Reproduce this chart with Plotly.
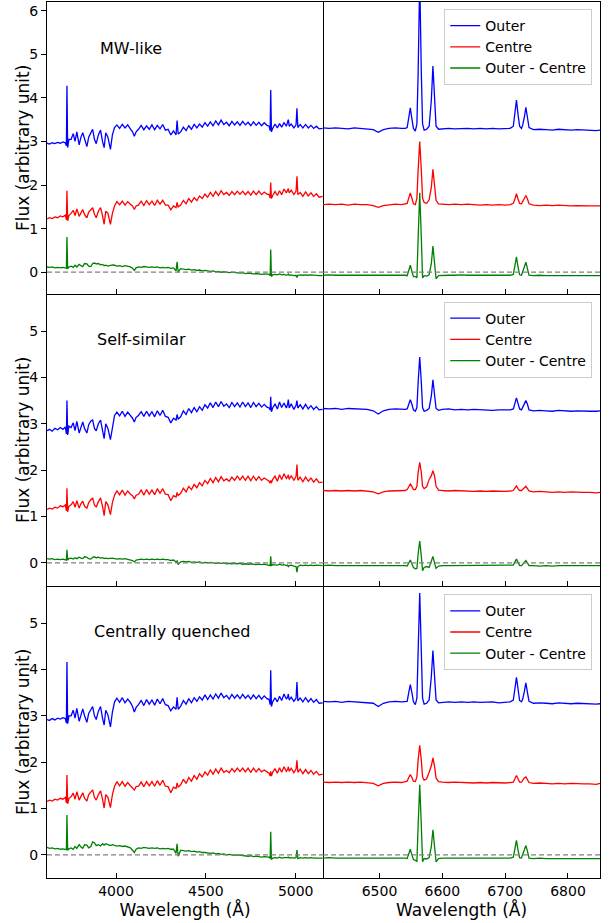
import plotly.graph_objects as go
from plotly.subplots import make_subplots

# ---------------------------------------------------------------- wavelengths
# blue side of the spectra (Å)
WAVE_BLUE = [
    3616, 3630, 3645, 3660, 3675, 3690, 3705, 3718,
    3724, 3727, 3731, 3738,
    3750, 3762, 3772, 3782, 3795, 3805, 3815, 3825, 3838, 3848, 3860, 3870,
    3880, 3890, 3902, 3914, 3925, 3934, 3943, 3955, 3969, 3980, 3992,
    4005, 4020, 4035, 4050, 4065, 4080, 4092,
    4102, 4112,
    4125, 4140, 4155, 4170, 4185, 4200, 4215, 4230, 4245, 4260, 4275, 4290, 4305, 4320,
    4334, 4340, 4346,
    4360, 4375, 4390, 4405, 4420, 4435, 4450, 4465, 4480, 4495,
    4510, 4525, 4540, 4555, 4570, 4585, 4600, 4615, 4630, 4645, 4660, 4675,
    4690, 4705, 4720, 4735, 4750, 4765, 4780, 4795, 4810, 4825, 4840,
    4852, 4858, 4861, 4865, 4872,
    4885, 4898, 4910, 4922, 4935, 4948,
    4955, 4959, 4964,
    4975, 4990, 5002,
    5007, 5012,
    5025, 5040, 5055, 5070, 5085, 5100, 5115, 5130, 5150,
]

# red side of the spectra around H-alpha, [NII] and [SII] (Å)
WAVE_RED = [
    6410, 6420, 6430, 6440, 6450, 6460, 6470, 6480, 6490, 6498, 6506, 6515, 6525, 6535, 6541,
    6544, 6546.5, 6549, 6551.5, 6554,
    6557,
    6559.5, 6561.5, 6564, 6566.5, 6568.5,
    6571, 6575, 6579,
    6582.5, 6585, 6587.5, 6590,
    6594, 6600, 6610, 6620, 6630, 6640, 6650, 6660, 6670, 6680, 6690, 6700, 6708,
    6713, 6715.5, 6718, 6720.5, 6723, 6726, 6728, 6730.5, 6733, 6735.5, 6738,
    6745, 6755, 6765, 6775, 6785, 6795, 6805, 6815, 6825, 6835, 6845, 6851,
]

# ---------------------------------------------------------------- MW-like
MW_OUTER_BLUE = [
    2.96, 2.94, 2.97, 2.95, 2.98, 2.96, 2.99, 2.97,
    2.90, 4.28, 2.86, 3.05,
    3.05, 3.18, 3.00, 3.22, 2.92, 3.10, 3.20, 3.05, 2.88, 3.10, 3.20, 3.28,
    3.05, 2.95, 3.15, 3.26, 3.00, 2.86, 3.20, 3.10, 2.82, 3.15, 3.32,
    3.38, 3.30, 3.39, 3.31, 3.38, 3.29, 3.22,
    3.12, 3.22,
    3.28, 3.37, 3.27, 3.36, 3.28, 3.38, 3.27, 3.37, 3.29, 3.39, 3.26, 3.28, 3.15, 3.24,
    3.15, 3.48, 3.17,
    3.22, 3.33, 3.25, 3.36, 3.28, 3.39, 3.31, 3.40, 3.33, 3.43,
    3.35, 3.45, 3.36, 3.47, 3.38, 3.49, 3.39, 3.44, 3.36, 3.46, 3.38, 3.45,
    3.37, 3.46, 3.38, 3.44, 3.36, 3.45, 3.37, 3.44, 3.36, 3.43, 3.37,
    3.35, 3.25, 4.18, 3.22, 3.30,
    3.40, 3.31, 3.41, 3.33, 3.43, 3.35,
    3.42, 3.50, 3.35,
    3.40, 3.31, 3.38,
    3.76, 3.32,
    3.39, 3.31, 3.39, 3.31, 3.37, 3.30, 3.35, 3.29, 3.30,
]
MW_CENTRE_BLUE = [
    1.22, 1.25, 1.23, 1.27, 1.25, 1.29, 1.27, 1.31,
    1.20, 1.87, 1.18, 1.30,
    1.35, 1.42, 1.30, 1.45, 1.28, 1.38, 1.44, 1.32, 1.25, 1.38, 1.44, 1.48,
    1.33, 1.25, 1.40, 1.48, 1.30, 1.10, 1.40, 1.35, 1.10, 1.35, 1.52,
    1.62, 1.55, 1.63, 1.54, 1.62, 1.56, 1.52,
    1.44, 1.52,
    1.54, 1.63, 1.53, 1.64, 1.55, 1.63, 1.53, 1.65, 1.56, 1.65, 1.54, 1.54, 1.43, 1.52,
    1.48, 1.60, 1.50,
    1.54, 1.65, 1.57, 1.69, 1.61, 1.71, 1.64, 1.75, 1.69, 1.79,
    1.72, 1.83, 1.74, 1.85, 1.76, 1.87, 1.78, 1.83, 1.76, 1.85, 1.78, 1.86,
    1.79, 1.86, 1.78, 1.85, 1.77, 1.86, 1.78, 1.86, 1.78, 1.84, 1.79,
    1.78, 1.70, 2.06, 1.69, 1.76,
    1.85, 1.76, 1.87, 1.78, 1.91, 1.82,
    1.90, 1.92, 1.82,
    1.88, 1.78, 1.86,
    2.20, 1.78,
    1.83, 1.74, 1.84, 1.75, 1.82, 1.74, 1.80, 1.72, 1.74,
]
MW_DIFF_BLUE = [
    0.12, 0.11, 0.12, 0.10, 0.11, 0.10, 0.11, 0.10,
    0.09, 0.81, 0.08, 0.12,
    0.14, 0.11, 0.16, 0.12, 0.18, 0.15, 0.13, 0.20, 0.19, 0.14, 0.13, 0.20,
    0.21, 0.19, 0.20, 0.17, 0.18, 0.15, 0.16, 0.14, 0.15, 0.17, 0.16,
    0.14, 0.15, 0.13, 0.15, 0.14, 0.12, 0.09,
    0.04, 0.10,
    0.12, 0.11, 0.13, 0.12, 0.11, 0.12, 0.11, 0.12, 0.10, 0.11, 0.10, 0.11, 0.09, 0.10,
    0.03, 0.24, 0.00,
    0.08, 0.07, 0.06, 0.07, 0.05, 0.06, 0.04, 0.05, 0.03, 0.04,
    0.03, 0.02, 0.03, 0.01, 0.02, 0.00, 0.01, 0.00, -0.01, 0.00, -0.01, -0.01,
    -0.02, -0.01, -0.03, -0.02, -0.03, -0.04, -0.03, -0.04, -0.05, -0.04, -0.05,
    -0.05, -0.08, 0.52, -0.10, -0.06,
    -0.05, -0.06, -0.04, -0.06, -0.05, -0.07,
    -0.06, -0.04, -0.07,
    -0.06, -0.08, -0.07,
    -0.12, -0.07,
    -0.06, -0.07, -0.06, -0.07, -0.06, -0.07, -0.07, -0.08, -0.08,
]
MW_OUTER_RED = [
    3.31, 3.30, 3.31, 3.30, 3.29, 3.31, 3.30, 3.29, 3.27, 3.21, 3.27, 3.30, 3.31, 3.30, 3.30,
    3.32, 3.52, 3.77, 3.52, 3.30,
    3.24,
    3.40, 4.60, 6.75, 4.60, 3.40,
    3.26, 3.28, 3.35,
    3.95, 4.73, 3.95, 3.35,
    3.28, 3.29, 3.30, 3.29, 3.30, 3.30, 3.29, 3.30, 3.29, 3.30, 3.29, 3.29, 3.30,
    3.35, 3.62, 3.95, 3.62, 3.35, 3.30, 3.38, 3.55, 3.78, 3.55, 3.32,
    3.27, 3.28, 3.27, 3.26, 3.28, 3.27, 3.26, 3.27, 3.26, 3.26, 3.25, 3.26,
]
MW_CENTRE_RED = [
    1.55, 1.56, 1.55, 1.56, 1.54, 1.56, 1.55, 1.55, 1.53, 1.49, 1.53, 1.55, 1.56, 1.55, 1.56,
    1.58, 1.70, 1.82, 1.70, 1.57,
    1.55,
    1.70, 2.35, 3.00, 2.35, 1.70,
    1.60, 1.58, 1.66,
    1.95, 2.36, 1.95, 1.65,
    1.57, 1.56, 1.55, 1.56, 1.55, 1.56, 1.55, 1.54, 1.55, 1.54, 1.55, 1.54, 1.55,
    1.58, 1.68, 1.80, 1.68, 1.58, 1.57, 1.62, 1.70, 1.76, 1.68, 1.57,
    1.54, 1.53, 1.54, 1.53, 1.54, 1.53, 1.52, 1.53, 1.52, 1.52, 1.52, 1.52,
]
MW_DIFF_RED = [
    -0.07, -0.06, -0.07, -0.07, -0.06, -0.07, -0.07, -0.06, -0.07, -0.07, -0.06, -0.07, -0.07, -0.06, -0.07,
    -0.08, 0.04, 0.16, 0.02, -0.10,
    -0.10,
    -0.13, 0.80, 1.82, 0.80, -0.13,
    -0.08, -0.09, -0.06,
    0.20, 0.60, 0.20, -0.15,
    -0.08, -0.07, -0.07, -0.07, -0.06, -0.07, -0.07, -0.07, -0.06, -0.07, -0.07, -0.07, -0.07,
    -0.05, 0.12, 0.35, 0.12, -0.06, -0.07, 0.00, 0.12, 0.23, 0.10, -0.07,
    -0.08, -0.07, -0.08, -0.08, -0.07, -0.08, -0.08, -0.08, -0.08, -0.08, -0.08, -0.08,
]

# ---------------------------------------------------------------- Self-similar
SS_OUTER_BLUE = [
    2.85, 2.88, 2.84, 2.90, 2.87, 2.92, 2.88, 2.93,
    2.78, 3.50, 2.76, 2.95,
    2.92, 3.02, 2.85, 3.05, 2.80, 2.95, 3.04, 2.90, 2.80, 2.98, 3.06, 3.08,
    2.90, 2.85, 3.00, 3.08, 2.88, 2.68, 3.00, 2.90, 2.66, 2.95, 3.18,
    3.25, 3.17, 3.27, 3.16, 3.25, 3.18, 3.12,
    3.04, 3.14,
    3.18, 3.26, 3.16, 3.27, 3.17, 3.26, 3.15, 3.28, 3.18, 3.29, 3.16, 3.14, 3.02, 3.12,
    3.08, 3.20, 3.10,
    3.15, 3.28, 3.20, 3.33, 3.24, 3.35, 3.26, 3.37, 3.29, 3.41,
    3.34, 3.45, 3.35, 3.47, 3.37, 3.48, 3.38, 3.43, 3.35, 3.46, 3.37, 3.45,
    3.36, 3.47, 3.37, 3.45, 3.35, 3.46, 3.37, 3.44, 3.36, 3.42, 3.36,
    3.34, 3.30, 3.58, 3.26, 3.34,
    3.43, 3.32, 3.47, 3.35, 3.45, 3.34,
    3.42, 3.52, 3.34,
    3.43, 3.31, 3.40,
    3.50, 3.34,
    3.41, 3.32, 3.42, 3.32, 3.39, 3.31, 3.37, 3.30, 3.31,
]
SS_CENTRE_BLUE = [
    1.15, 1.18, 1.16, 1.20, 1.18, 1.23, 1.21, 1.25,
    1.12, 1.61, 1.10, 1.22,
    1.25, 1.32, 1.20, 1.34, 1.18, 1.28, 1.33, 1.22, 1.18, 1.30, 1.36, 1.40,
    1.25, 1.20, 1.32, 1.40, 1.22, 1.02, 1.32, 1.25, 1.04, 1.30, 1.46,
    1.55, 1.47, 1.57, 1.46, 1.55, 1.48, 1.45,
    1.38, 1.46,
    1.48, 1.57, 1.46, 1.58, 1.48, 1.57, 1.47, 1.60, 1.50, 1.60, 1.48, 1.47, 1.34, 1.45,
    1.42, 1.52, 1.45,
    1.50, 1.61, 1.53, 1.65, 1.58, 1.69, 1.62, 1.73, 1.66, 1.78,
    1.71, 1.82, 1.73, 1.84, 1.75, 1.86, 1.77, 1.81, 1.76, 1.85, 1.78, 1.87,
    1.79, 1.87, 1.78, 1.87, 1.77, 1.87, 1.78, 1.86, 1.78, 1.83, 1.79,
    1.76, 1.72, 1.78, 1.72, 1.80,
    1.87, 1.76, 1.90, 1.80, 1.92, 1.82,
    1.86, 1.90, 1.80,
    1.88, 1.78, 1.86,
    2.12, 1.78,
    1.85, 1.75, 1.85, 1.76, 1.83, 1.74, 1.81, 1.73, 1.74,
]
SS_DIFF_BLUE = [
    0.09, 0.08, 0.09, 0.07, 0.08, 0.07, 0.08, 0.07,
    0.06, 0.28, 0.06, 0.09,
    0.10, 0.08, 0.11, 0.09, 0.12, 0.10, 0.09, 0.13, 0.12, 0.09, 0.08, 0.12,
    0.13, 0.11, 0.12, 0.10, 0.11, 0.09, 0.10, 0.09, 0.10, 0.10, 0.09,
    0.08, 0.09, 0.08, 0.09, 0.08, 0.07, 0.05,
    0.02, 0.06,
    0.07, 0.08, 0.07, 0.08, 0.07, 0.08, 0.07, 0.08, 0.07, 0.08, 0.07, 0.07, 0.05, 0.06,
    0.02, 0.04, -0.04,
    0.02, 0.03, 0.02, 0.03, 0.01, 0.02, 0.01, 0.02, 0.00, 0.01,
    0.00, 0.01, 0.00, -0.01, 0.00, -0.01, 0.00, -0.02, -0.01, -0.02, -0.01, -0.02,
    -0.01, -0.03, -0.02, -0.03, -0.02, -0.03, -0.04, -0.03, -0.04, -0.03, -0.04,
    -0.04, -0.06, 0.14, -0.06, -0.04,
    -0.04, -0.05, -0.03, -0.05, -0.04, -0.06,
    -0.05, -0.08, -0.06,
    -0.05, -0.07, -0.08,
    -0.20, -0.08,
    -0.05, -0.06, -0.05, -0.06, -0.05, -0.06, -0.05, -0.06, -0.06,
]
SS_OUTER_RED = [
    3.33, 3.32, 3.33, 3.31, 3.33, 3.32, 3.32, 3.31, 3.28, 3.21, 3.28, 3.31, 3.32, 3.31, 3.31,
    3.32, 3.42, 3.52, 3.42, 3.30,
    3.27,
    3.35, 3.90, 4.44, 3.90, 3.35,
    3.27, 3.29, 3.33,
    3.60, 3.95, 3.60, 3.33,
    3.29, 3.31, 3.32, 3.30, 3.31, 3.30, 3.31, 3.30, 3.30, 3.29, 3.30, 3.30, 3.30,
    3.32, 3.44, 3.56, 3.44, 3.32, 3.30, 3.35, 3.44, 3.50, 3.42, 3.30,
    3.28, 3.29, 3.28, 3.27, 3.29, 3.28, 3.27, 3.28, 3.27, 3.27, 3.27, 3.28,
]
SS_CENTRE_RED = [
    1.56, 1.55, 1.56, 1.55, 1.56, 1.55, 1.56, 1.55, 1.53, 1.49, 1.53, 1.55, 1.56, 1.56, 1.56,
    1.58, 1.65, 1.70, 1.65, 1.58,
    1.58,
    1.65, 1.95, 2.17, 1.95, 1.65,
    1.60, 1.64, 1.80,
    1.88, 1.99, 1.88, 1.65,
    1.57, 1.56, 1.55, 1.56, 1.55, 1.55, 1.54, 1.55, 1.54, 1.55, 1.54, 1.54, 1.55,
    1.56, 1.61, 1.66, 1.60, 1.56, 1.56, 1.59, 1.63, 1.65, 1.60, 1.55,
    1.53, 1.54, 1.53, 1.52, 1.53, 1.52, 1.53, 1.52, 1.52, 1.52, 1.51, 1.52,
]
SS_DIFF_RED = [
    -0.06, -0.05, -0.06, -0.06, -0.05, -0.06, -0.06, -0.05, -0.06, -0.06, -0.05, -0.06, -0.06, -0.05, -0.06,
    -0.07, 0.00, 0.06, -0.02, -0.10,
    -0.13,
    -0.12, 0.20, 0.47, 0.15, -0.17,
    -0.10, -0.08, -0.10,
    0.05, 0.14, 0.00, -0.12,
    -0.07, -0.06, -0.06, -0.06, -0.05, -0.06, -0.06, -0.06, -0.05, -0.06, -0.06, -0.06, -0.06,
    -0.05, 0.02, 0.08, 0.01, -0.06, -0.06, -0.03, 0.02, 0.05, 0.00, -0.06,
    -0.06, -0.07, -0.06, -0.07, -0.06, -0.06, -0.07, -0.06, -0.07, -0.06, -0.07, -0.06,
]

# ---------------------------------------------------------------- Centrally quenched
CQ_OUTER_BLUE = [
    2.92, 2.90, 2.94, 2.91, 2.95, 2.93, 2.96, 2.94,
    2.84, 4.16, 2.83, 3.00,
    3.00, 3.12, 2.95, 3.16, 2.88, 3.05, 3.15, 3.00, 2.86, 3.05, 3.15, 3.20,
    3.00, 2.92, 3.10, 3.20, 2.95, 2.80, 3.12, 3.02, 2.76, 3.08, 3.30,
    3.38, 3.29, 3.39, 3.28, 3.36, 3.29, 3.20,
    3.08, 3.18,
    3.24, 3.33, 3.22, 3.35, 3.25, 3.34, 3.23, 3.36, 3.26, 3.37, 3.24, 3.22, 3.11, 3.19,
    3.14, 3.40, 3.14,
    3.21, 3.33, 3.25, 3.37, 3.28, 3.39, 3.31, 3.41, 3.34, 3.45,
    3.35, 3.45, 3.36, 3.47, 3.38, 3.49, 3.39, 3.44, 3.36, 3.46, 3.38, 3.45,
    3.37, 3.46, 3.38, 3.44, 3.36, 3.45, 3.37, 3.44, 3.36, 3.43, 3.37,
    3.35, 3.24, 3.98, 3.20, 3.30,
    3.39, 3.30, 3.42, 3.33, 3.47, 3.36,
    3.40, 3.47, 3.34,
    3.40, 3.31, 3.38,
    3.73, 3.32,
    3.38, 3.30, 3.39, 3.30, 3.37, 3.29, 3.35, 3.27, 3.28,
]
CQ_CENTRE_BLUE = [
    1.15, 1.18, 1.16, 1.20, 1.18, 1.22, 1.20, 1.24,
    1.12, 1.72, 1.10, 1.22,
    1.25, 1.33, 1.20, 1.36, 1.18, 1.28, 1.34, 1.22, 1.16, 1.30, 1.36, 1.40,
    1.24, 1.18, 1.30, 1.38, 1.20, 1.01, 1.30, 1.24, 1.02, 1.30, 1.48,
    1.58, 1.49, 1.58, 1.48, 1.56, 1.49, 1.45,
    1.40, 1.47,
    1.48, 1.57, 1.47, 1.58, 1.49, 1.58, 1.48, 1.60, 1.50, 1.61, 1.48, 1.47, 1.34, 1.46,
    1.43, 1.55, 1.46,
    1.51, 1.63, 1.54, 1.67, 1.59, 1.71, 1.63, 1.75, 1.68, 1.79,
    1.72, 1.83, 1.74, 1.85, 1.76, 1.87, 1.78, 1.82, 1.77, 1.86, 1.79, 1.87,
    1.80, 1.87, 1.79, 1.87, 1.78, 1.87, 1.79, 1.86, 1.79, 1.83, 1.79,
    1.76, 1.70, 1.80, 1.70, 1.78,
    1.86, 1.76, 1.88, 1.78, 1.90, 1.80,
    1.84, 1.90, 1.80,
    1.87, 1.77, 1.85,
    2.04, 1.78,
    1.85, 1.75, 1.84, 1.75, 1.82, 1.74, 1.80, 1.72, 1.74,
]
CQ_DIFF_BLUE = [
    0.16, 0.14, 0.15, 0.13, 0.14, 0.12, 0.13, 0.12,
    0.11, 0.86, 0.10, 0.13,
    0.15, 0.12, 0.18, 0.14, 0.22, 0.17, 0.14, 0.22, 0.21, 0.15, 0.18, 0.28,
    0.26, 0.20, 0.22, 0.19, 0.24, 0.21, 0.24, 0.22, 0.20, 0.22, 0.20,
    0.19, 0.20, 0.18, 0.19, 0.17, 0.15, 0.10,
    0.05, 0.12,
    0.15, 0.14, 0.16, 0.15, 0.14, 0.15, 0.14, 0.15, 0.13, 0.14, 0.13, 0.14, 0.12, 0.12,
    0.03, 0.24, -0.03,
    0.10, 0.09, 0.08, 0.09, 0.07, 0.08, 0.06, 0.07, 0.05, 0.05,
    0.04, 0.03, 0.04, 0.02, 0.03, 0.01, 0.02, 0.00, 0.01, 0.00, -0.01, 0.00,
    -0.01, -0.02, -0.02, -0.03, -0.02, -0.04, -0.03, -0.04, -0.05, -0.04, -0.05,
    -0.05, -0.08, 0.50, -0.10, -0.07,
    -0.06, -0.07, -0.05, -0.07, -0.06, -0.07,
    -0.06, -0.05, -0.07,
    -0.06, -0.07, -0.06,
    0.10, -0.08,
    -0.06, -0.07, -0.06, -0.07, -0.06, -0.07, -0.07, -0.07, -0.07,
]
CQ_OUTER_RED = [
    3.31, 3.30, 3.31, 3.29, 3.31, 3.30, 3.30, 3.29, 3.27, 3.20, 3.27, 3.30, 3.31, 3.30, 3.30,
    3.31, 3.50, 3.67, 3.50, 3.30,
    3.24,
    3.38, 4.40, 5.65, 4.40, 3.38,
    3.25, 3.27, 3.34,
    3.85, 4.41, 3.85, 3.34,
    3.28, 3.29, 3.30, 3.29, 3.30, 3.29, 3.30, 3.29, 3.29, 3.30, 3.28, 3.29, 3.30,
    3.34, 3.58, 3.83, 3.58, 3.33, 3.30, 3.36, 3.52, 3.71, 3.50, 3.31,
    3.27, 3.28, 3.27, 3.26, 3.28, 3.27, 3.26, 3.27, 3.26, 3.26, 3.25, 3.26,
]
CQ_CENTRE_RED = [
    1.57, 1.56, 1.57, 1.56, 1.57, 1.56, 1.57, 1.56, 1.54, 1.49, 1.54, 1.56, 1.57, 1.56, 1.57,
    1.59, 1.67, 1.73, 1.67, 1.59,
    1.58,
    1.68, 2.05, 2.36, 2.05, 1.68,
    1.61, 1.64, 1.78,
    1.92, 2.09, 1.92, 1.66,
    1.58, 1.57, 1.56, 1.57, 1.56, 1.56, 1.55, 1.56, 1.55, 1.56, 1.55, 1.55, 1.56,
    1.57, 1.64, 1.71, 1.64, 1.57, 1.57, 1.61, 1.66, 1.68, 1.63, 1.56,
    1.54, 1.55, 1.54, 1.53, 1.54, 1.53, 1.54, 1.53, 1.53, 1.53, 1.52, 1.54,
]
CQ_DIFF_RED = [
    -0.07, -0.06, -0.07, -0.07, -0.06, -0.07, -0.07, -0.06, -0.07, -0.07, -0.06, -0.07, -0.07, -0.06, -0.07,
    -0.08, 0.02, 0.12, 0.00, -0.10,
    -0.12,
    -0.14, 0.65, 1.51, 0.65, -0.15,
    -0.08, -0.09, -0.06,
    0.18, 0.54, 0.18, -0.15,
    -0.08, -0.07, -0.07, -0.07, -0.06, -0.07, -0.07, -0.07, -0.06, -0.07, -0.07, -0.07, -0.07,
    -0.05, 0.10, 0.31, 0.10, -0.06, -0.07, 0.00, 0.10, 0.20, 0.08, -0.07,
    -0.08, -0.07, -0.08, -0.08, -0.07, -0.08, -0.08, -0.08, -0.08, -0.08, -0.08, -0.08,
]

# ---------------------------------------------------------------- panel setup
MODEL_NAMES = ["MW-like", "Self-similar", "Centrally quenched"]
SERIES_NAMES = ["Outer", "Centre", "Outer - Centre"]
SERIES_COLORS = ["#0000ff", "#ff0000", "#008000"]

BLUE_SIDE = [
    [MW_OUTER_BLUE, MW_CENTRE_BLUE, MW_DIFF_BLUE],
    [SS_OUTER_BLUE, SS_CENTRE_BLUE, SS_DIFF_BLUE],
    [CQ_OUTER_BLUE, CQ_CENTRE_BLUE, CQ_DIFF_BLUE],
]
RED_SIDE = [
    [MW_OUTER_RED, MW_CENTRE_RED, MW_DIFF_RED],
    [SS_OUTER_RED, SS_CENTRE_RED, SS_DIFF_RED],
    [CQ_OUTER_RED, CQ_CENTRE_RED, CQ_DIFF_RED],
]
for row in BLUE_SIDE:
    for s in row:
        assert len(s) == len(WAVE_BLUE), len(s)
for row in RED_SIDE:
    for s in row:
        assert len(s) == len(WAVE_RED), len(s)

Y_RANGES = [[-0.5, 6.2], [-0.5, 5.8], [-0.5, 5.8]]
Y_TICKS = [[0, 1, 2, 3, 4, 5, 6], [0, 1, 2, 3, 4, 5], [0, 1, 2, 3, 4, 5]]
LABEL_POS = [(4085, 5.14), (4141, 4.82), (4310, 4.82)]
LEGEND_Y = [0.992, 0.658, 0.324]
LEGEND_IDS = ["legend", "legend2", "legend3"]
LEFT_Y_DOMAINS = ["y domain", "y3 domain", "y5 domain"]

FONT = "DejaVu Sans"
W, H = 609, 923
M_L, M_R, M_T, M_B = 47, 9, 2, 45

fig = make_subplots(rows=3, cols=2, horizontal_spacing=0, vertical_spacing=0,
                    column_widths=[276, 277])

for r in range(3):
    for k in range(3):
        fig.add_trace(go.Scatter(
            x=WAVE_BLUE, y=BLUE_SIDE[r][k], mode="lines",
            line=dict(color=SERIES_COLORS[k], width=1.3),
            showlegend=False, hoverinfo="skip"), row=r + 1, col=1)
        fig.add_trace(go.Scatter(
            x=WAVE_RED, y=RED_SIDE[r][k], mode="lines", name=SERIES_NAMES[k],
            line=dict(color=SERIES_COLORS[k], width=1.3),
            legend=LEGEND_IDS[r], showlegend=True, hoverinfo="skip"), row=r + 1, col=2)
    for c in (1, 2):
        fig.add_hline(y=0, line=dict(color="#808080", width=1.2, dash="5px,3px"),
                      row=r + 1, col=c)
    fig.add_annotation(x=LABEL_POS[r][0], y=LABEL_POS[r][1], text=MODEL_NAMES[r],
                       showarrow=False, xanchor="center", yanchor="middle",
                       font=dict(family=FONT, size=16, color="black"),
                       row=r + 1, col=1)
    # y-axis title of each row
    fig.add_annotation(xref="paper", x=(23 - M_L) / (W - M_L - M_R),
                       yref=LEFT_Y_DOMAINS[r], y=0.5,
                       text="Flux (arbitrary unit)", textangle=-90, showarrow=False,
                       xanchor="center", yanchor="middle",
                       font=dict(family=FONT, size=17, color="black"))

axis_common = dict(showline=True, linecolor="black", linewidth=1,
                   showgrid=False, zeroline=False, tickcolor="black",
                   tickfont=dict(family=FONT, size=14, color="black"))

for r in range(3):
    last = r == 2
    for c, rng, ticks in ((1, [3616, 5152], [4000, 4500, 5000]),
                          (2, [6410, 6851], [6500, 6600, 6700, 6800])):
        fig.update_xaxes(range=rng, tickvals=ticks, ticks="inside",
                         ticklen=5, tickwidth=1, showticklabels=last,
                         mirror=(r == 0),
                         title=dict(text="Wavelength (Å)" if last else "",
                                    font=dict(family=FONT, size=17, color="black"),
                                    standoff=6),
                         row=r + 1, col=c, **axis_common)
    fig.update_yaxes(range=Y_RANGES[r], tickvals=Y_TICKS[r], ticks="outside",
                     ticklen=5, tickwidth=1, mirror=True,
                     row=r + 1, col=1, **axis_common)
    fig.update_yaxes(range=Y_RANGES[r], tickvals=Y_TICKS[r], ticks="", side="right",
                     showticklabels=False, mirror=False, row=r + 1, col=2, **axis_common)

legend_style = dict(x=0.986, xanchor="right", yanchor="top",
                    bgcolor="rgba(255,255,255,0.8)", bordercolor="#cccccc", borderwidth=1,
                    font=dict(family=FONT, size=14, color="black"),
                    itemwidth=30, tracegroupgap=0)
fig.update_layout(
    width=W, height=H,
    margin=dict(l=M_L, r=M_R, t=M_T, b=M_B),
    paper_bgcolor="white", plot_bgcolor="white",
    font=dict(family=FONT, color="black"),
    legend=dict(y=LEGEND_Y[0], **legend_style),
    legend2=dict(y=LEGEND_Y[1], **legend_style),
    legend3=dict(y=LEGEND_Y[2], **legend_style),
)

fig.write_html("out.html")
